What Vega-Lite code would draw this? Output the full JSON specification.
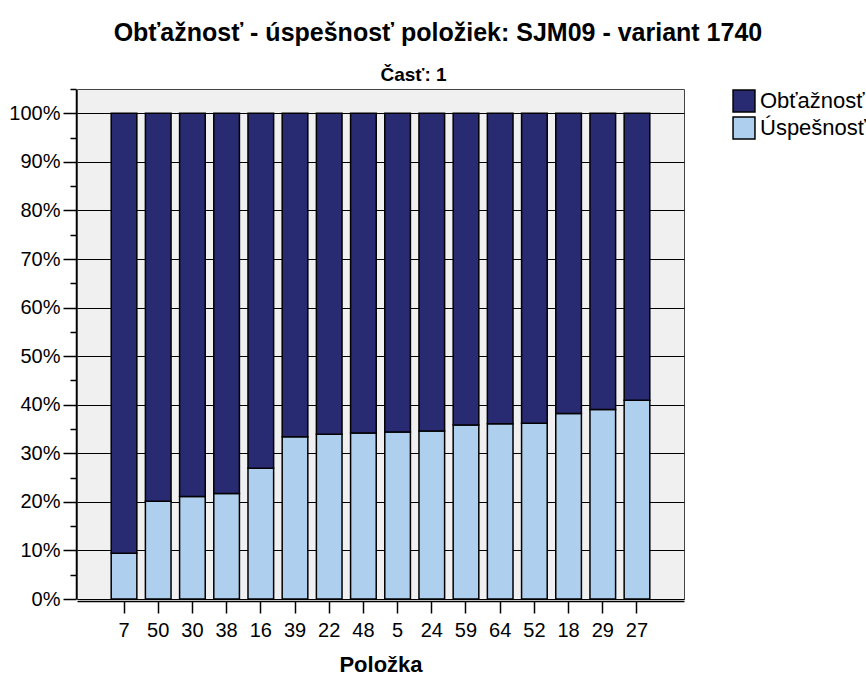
{
  "$schema": "https://vega.github.io/schema/vega-lite/v6.json",
  "background": "white",
  "padding": {"left": 8, "top": 21, "right": 0, "bottom": 5},
  "title": {"text": "Obťažnosť - úspešnosť položiek: SJM09 - variant 1740", "font": "Liberation Sans", "fontSize": 25, "fontWeight": "bold", "color": "black", "anchor": "middle", "frame": "bounds", "offset": 20},
  "data": {"values": [
    {"cast": 1, "polozka": "7", "typ": "Úspešnosť", "hodnota": 9.4},
    {"cast": 1, "polozka": "7", "typ": "Obťažnosť", "hodnota": 90.6},
    {"cast": 1, "polozka": "50", "typ": "Úspešnosť", "hodnota": 20.1},
    {"cast": 1, "polozka": "50", "typ": "Obťažnosť", "hodnota": 79.9},
    {"cast": 1, "polozka": "30", "typ": "Úspešnosť", "hodnota": 21.1},
    {"cast": 1, "polozka": "30", "typ": "Obťažnosť", "hodnota": 78.9},
    {"cast": 1, "polozka": "38", "typ": "Úspešnosť", "hodnota": 21.7},
    {"cast": 1, "polozka": "38", "typ": "Obťažnosť", "hodnota": 78.3},
    {"cast": 1, "polozka": "16", "typ": "Úspešnosť", "hodnota": 26.9},
    {"cast": 1, "polozka": "16", "typ": "Obťažnosť", "hodnota": 73.1},
    {"cast": 1, "polozka": "39", "typ": "Úspešnosť", "hodnota": 33.4},
    {"cast": 1, "polozka": "39", "typ": "Obťažnosť", "hodnota": 66.6},
    {"cast": 1, "polozka": "22", "typ": "Úspešnosť", "hodnota": 33.9},
    {"cast": 1, "polozka": "22", "typ": "Obťažnosť", "hodnota": 66.1},
    {"cast": 1, "polozka": "48", "typ": "Úspešnosť", "hodnota": 34.2},
    {"cast": 1, "polozka": "48", "typ": "Obťažnosť", "hodnota": 65.8},
    {"cast": 1, "polozka": "5", "typ": "Úspešnosť", "hodnota": 34.4},
    {"cast": 1, "polozka": "5", "typ": "Obťažnosť", "hodnota": 65.6},
    {"cast": 1, "polozka": "24", "typ": "Úspešnosť", "hodnota": 34.6},
    {"cast": 1, "polozka": "24", "typ": "Obťažnosť", "hodnota": 65.4},
    {"cast": 1, "polozka": "59", "typ": "Úspešnosť", "hodnota": 35.8},
    {"cast": 1, "polozka": "59", "typ": "Obťažnosť", "hodnota": 64.2},
    {"cast": 1, "polozka": "64", "typ": "Úspešnosť", "hodnota": 36.1},
    {"cast": 1, "polozka": "64", "typ": "Obťažnosť", "hodnota": 63.9},
    {"cast": 1, "polozka": "52", "typ": "Úspešnosť", "hodnota": 36.2},
    {"cast": 1, "polozka": "52", "typ": "Obťažnosť", "hodnota": 63.8},
    {"cast": 1, "polozka": "18", "typ": "Úspešnosť", "hodnota": 38.2},
    {"cast": 1, "polozka": "18", "typ": "Obťažnosť", "hodnota": 61.8},
    {"cast": 1, "polozka": "29", "typ": "Úspešnosť", "hodnota": 39.0},
    {"cast": 1, "polozka": "29", "typ": "Obťažnosť", "hodnota": 61.0},
    {"cast": 1, "polozka": "27", "typ": "Úspešnosť", "hodnota": 40.9},
    {"cast": 1, "polozka": "27", "typ": "Obťažnosť", "hodnota": 59.1}
  ]},
  "facet": {"column": {"field": "cast", "type": "nominal", "header": {"title": null, "labelExpr": "'\u2007\u2007\u2007Časť: ' + datum.value", "labelAlign": "left", "labelAnchor": "middle", "labelFont": "Liberation Sans", "labelFontSize": 19, "labelFontWeight": "bold", "labelColor": "black", "labelPadding": 3}}},
  "spec": {
    "width": 607,
    "height": 510,
    "view": {"fill": "#f0f0f0", "stroke": "#444", "strokeWidth": 1},
    "encoding": {
      "x": {"field": "polozka", "type": "nominal", "sort": null,
        "scale": {"paddingInner": 0.25, "paddingOuter": 1},
        "axis": {"title": "Položka", "titleFont": "Liberation Sans", "titleFontSize": 22, "titleFontWeight": "bold", "titleColor": "black", "titlePadding": 14,
          "labelAngle": 0, "labelFont": "Liberation Sans", "labelFontSize": 20, "labelColor": "black", "labelPadding": 7,
          "tickSize": 12, "tickColor": "black", "tickWidth": 1.5, "domainColor": "black", "domainWidth": 1.5, "grid": false}},
      "y": {"field": "hodnota", "type": "quantitative", "stack": "zero",
        "scale": {"domain": [0, 105], "nice": false}}
    },
    "layer": [
      {
        "mark": {"type": "bar", "stroke": "black", "strokeWidth": 1.5},
        "encoding": {
          "y": {"field": "hodnota", "type": "quantitative", "stack": "zero",
            "scale": {"domain": [0, 105], "nice": false},
            "axis": {"title": null, "orient": "left", "values": [0, 10, 20, 30, 40, 50, 60, 70, 80, 90, 100],
              "labelExpr": "datum.value + '%'",
              "labelFont": "Liberation Sans", "labelFontSize": 20, "labelColor": "black", "labelPadding": 3,
              "tickSize": 13, "tickColor": "black", "tickWidth": 1.5,
              "grid": true, "gridColor": "black", "gridWidth": 1.2,
              "domainColor": "black", "domainWidth": 1.5}},
          "color": {"field": "typ", "type": "nominal",
            "scale": {"domain": ["Obťažnosť", "Úspešnosť"], "range": ["#282a72", "#aed0ee"]},
            "legend": {"title": null, "orient": "right", "symbolType": "square", "symbolSize": 480, "symbolStrokeColor": "black", "symbolStrokeWidth": 1.5, "labelFont": "Liberation Sans", "labelFontSize": 22, "labelColor": "black", "rowPadding": -1, "offset": 47, "symbolOpacity": 1, "labelOffset": 4}},
          "order": {"field": "typ", "type": "nominal", "sort": "descending"}
        }
      },
      {
        "mark": {"type": "rule", "opacity": 0},
        "encoding": {
          "y": {"field": "hodnota", "type": "quantitative", "stack": "zero",
            "scale": {"domain": [0, 105], "nice": false},
            "axis": {"title": null, "orient": "left", "values": [5, 15, 25, 35, 45, 55, 65, 75, 85, 95, 105],
              "labels": false, "domain": false, "grid": false,
              "tickSize": 6, "tickColor": "black", "tickWidth": 1.5}}
        }
      }
    ],
    "resolve": {"axis": {"y": "independent"}}
  },
  "config": {"facet": {"spacing": 0}}
}
